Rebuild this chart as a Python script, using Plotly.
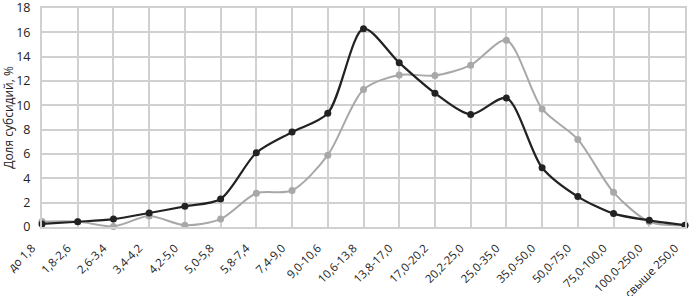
import plotly.graph_objects as go

categories = ["до 1,8", "1,8-2,6", "2,6-3,4", "3,4-4,2", "4,2-5,0", "5,0-5,8", "5,8-7,4",
              "7,4-9,0", "9,0-10,6", "10,6-13,8", "13,8-17,0", "17,0-20,2", "20,2-25,0",
              "25,0-35,0", "35,0-50,0", "50,0-75,0", "75,0-100,0", "100,0-250,0", "свыше 250,0"]
black_values = [0.25, 0.43, 0.65, 1.15, 1.7, 2.3, 6.1, 7.8, 9.35, 16.3, 13.5, 11.0, 9.25,
                10.6, 4.87, 2.5, 1.1, 0.55, 0.15]
gray_values = [0.45, 0.45, 0.05, 0.9, 0.15, 0.65, 2.77, 3.0, 5.9, 11.3, 12.5, 12.45, 13.3,
               15.35, 9.7, 7.2, 2.85, 0.43, 0.15]
y_ticks = [0, 2, 4, 6, 8, 10, 12, 14, 16, 18]

fig = go.Figure()
fig.add_trace(go.Scatter(x=categories, y=gray_values, mode="lines+markers",
                         line=dict(color="#a8a8a8", width=2, shape="spline", smoothing=0.8),
                         marker=dict(color="#a8a8a8", size=7), cliponaxis=False, showlegend=False))
fig.add_trace(go.Scatter(x=categories, y=black_values, mode="lines+markers",
                         line=dict(color="#222222", width=2.2, shape="spline", smoothing=0.8),
                         marker=dict(color="#222222", size=7), cliponaxis=False, showlegend=False))

grid = "#d0d0d0"
fig.update_layout(
    width=689, height=296,
    margin=dict(l=42, r=4, t=8, b=69),
    paper_bgcolor="white", plot_bgcolor="white",
    font=dict(family="Open Sans", size=12, color="#222222"),
    xaxis=dict(type="category", range=[0, 18], showgrid=True, gridcolor=grid, gridwidth=2,
               tickangle=-45, ticks="", showline=True, mirror=True, linecolor=grid, linewidth=2,
               zeroline=False, ticklabelshift=-10, ticklabelstandoff=8, ticklabeloverflow="allow",
               automargin=False, tickfont=dict(size=11.5)),
    yaxis=dict(range=[0, 18], tickvals=y_ticks, showgrid=True, gridcolor=grid, gridwidth=2,
               zeroline=False, ticks="", showline=True, mirror=True, linecolor=grid, linewidth=2,
               ticklabelstandoff=7, ticklabeloverflow="allow", automargin=False,
               title=dict(text="Доля субсидий, %", font=dict(size=12), standoff=10),
               tickfont=dict(size=12.5)),
)
fig.write_html("out.html", config={"displayModeBar": False},
               post_script="document.body.style.margin='0px';")
